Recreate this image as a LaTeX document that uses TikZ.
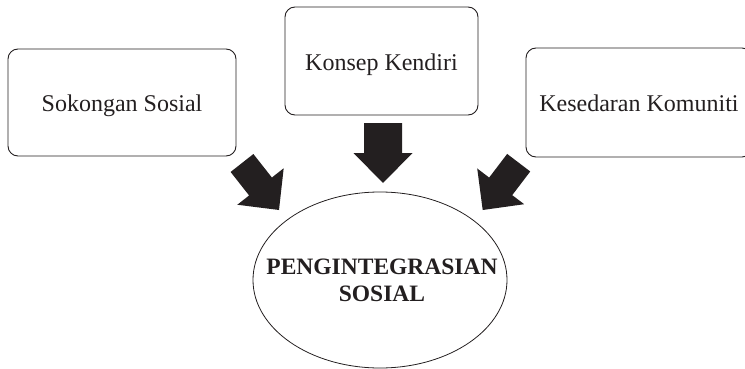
\documentclass[tikz,border=0pt]{standalone}
\usepackage{fontspec}
\setmainfont{Liberation Serif}
\usetikzlibrary{calc,shapes.geometric}
\definecolor{ink}{HTML}{231F20}
\newcommand\blkarrow[4]{%
  \coordinate (#1-m) at ($(#1)!0.5!(#2)$);
  \fill[ink] ($(#1)!#3!90:(#2)$) -- ($(#1-m)!#3!90:(#2)$) -- ($(#1-m)!#4!90:(#2)$) -- (#2)
    -- ($(#1-m)!#4!-90:(#2)$) -- ($(#1-m)!#3!-90:(#2)$) -- ($(#1)!#3!-90:(#2)$) -- cycle;}
\begin{document}
\begin{tikzpicture}[x=1pt,y=-1pt,
  box/.style={draw=ink, line width=0.9pt, rounded corners=10pt, inner sep=0pt,
    text height=19pt, text depth=0pt, font=\fontsize{24}{28}\selectfont, text=ink}]
\useasboundingbox (0,0) rectangle (745,369);
\clip (0,0) rectangle (745,369);
\node[box, minimum width=228pt, minimum height=107pt] (sokongan) at (122,102.5) {Sokongan Sosial};
\node[box, minimum width=193pt, minimum height=108pt] (konsep) at (381.5,61) {Konsep Kendiri};
\node[box, minimum width=226pt, minimum height=109pt] (kesedaran) at (639,102.5) {Kesedaran Komuniti};
\node[ellipse, draw=ink, line width=0.8pt, minimum width=254pt, minimum height=176pt, inner sep=0pt] (peng) at (380,280) {};
\node[align=center, text=ink, inner sep=0pt, font=\bfseries\fontsize{23.5}{27}\selectfont] (pengtext) at ($(peng.center)+(2,0)$) {PENGINTEGRASIAN\\SOSIAL};
\coordinate (a1) at (242,163); \coordinate (b1) at (279,210);
\coordinate (a2) at (383,123); \coordinate (b2) at (383,183);
\coordinate (a3) at (518.7,162.7); \coordinate (b3) at (482.7,210);
\blkarrow{a1}{b1}{14.5pt}{29.5pt}
\blkarrow{a2}{b2}{19pt}{29.5pt}
\blkarrow{a3}{b3}{14.5pt}{29.5pt}
\end{tikzpicture}
\end{document}
